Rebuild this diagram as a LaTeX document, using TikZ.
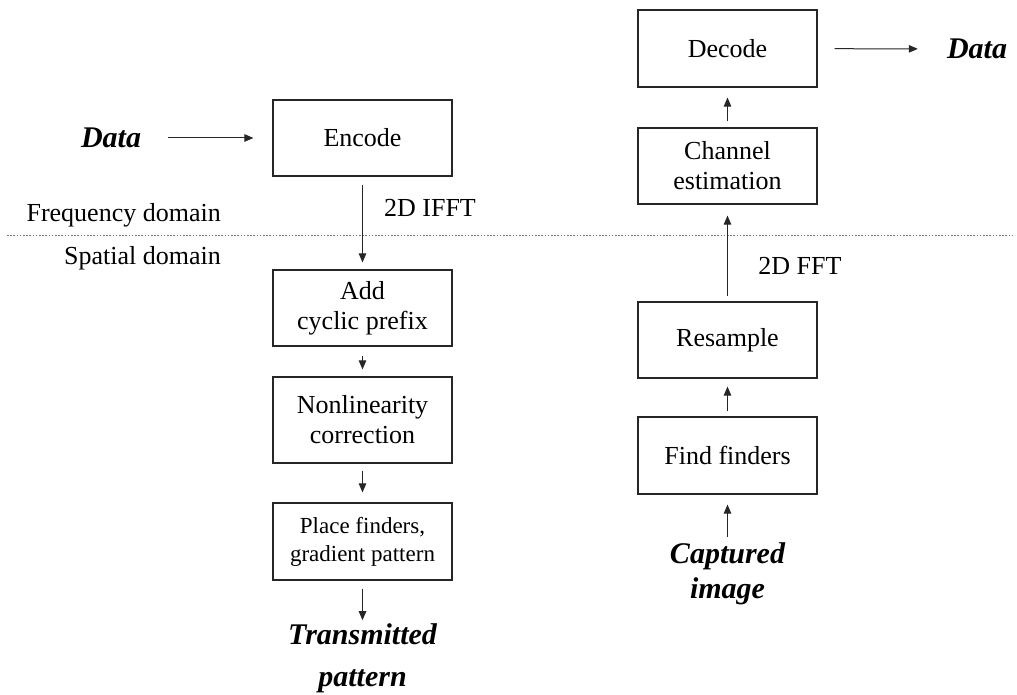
\documentclass[tikz,border=0pt]{standalone}
\usepackage{fontspec}
\setmainfont{Liberation Serif}
\usetikzlibrary{arrows.meta}
\begin{document}
\begin{tikzpicture}[x=1pt,y=-1pt,
  box/.style={draw=black!85, line width=1.2pt, minimum width=179pt, inner sep=0pt, align=center, font=\fontsize{26}{30}\selectfont},
  arr/.style={draw=black!85, line width=1pt, -{Triangle[length=9pt,width=7.5pt]}},
  bigtxt/.style={inner sep=0pt, align=center, font=\fontsize{30}{42}\bfseries\itshape\selectfont},
  lbl/.style={inner sep=0pt, font=\fontsize{26}{30}\selectfont}]
\useasboundingbox (0,0) rectangle (1017,695);
% left column
\node[box, minimum height=76pt] (encode) at (362.5,138) {Encode};
\node[box, minimum height=76pt] (add) at (362.5,308) {Add\\cyclic prefix};
\node[box, minimum height=86pt] (nonlin) at (362.5,420) {Nonlinearity\\correction};
\node[box, minimum height=77pt, font=\fontsize{23}{28}\selectfont] (place) at (362.5,541.5) {Place finders,\\gradient pattern};
\node[bigtxt] (datain) at (111,138) {Data};
\node[bigtxt] (trans) at (362.5,658) {Transmitted\\pattern};
% right column
\node[box, minimum height=77pt] (decode) at (727.5,48.5) {Decode};
\node[box, minimum height=76pt] (channel) at (727.5,166) {Channel\\estimation};
\node[box, minimum height=76pt] (resample) at (727.5,340) {Resample};
\node[box, minimum height=77pt] (find) at (727.5,455.5) {Find finders};
\node[bigtxt] (dataout) at (977,49) {Data};
\node[bigtxt, font=\fontsize{30}{35}\bfseries\itshape\selectfont] (capt) at (727.5,574) {Captured\\image};
% domain labels
\draw[black!55, line width=0.8pt, dash pattern=on 1.6pt off 1.6pt] (7,235) -- (1015,235);
\node[lbl, anchor=east] (freq) at (221,215) {Frequency domain};
\node[lbl, anchor=east] (spat) at (221,258) {Spatial domain};
\node[lbl] (ifft) at (430,208) {2D IFFT};
\node[lbl] (fft) at (800,266) {2D FFT};
% connectors
\draw[arr, shorten <=27pt, shorten >=19pt] (datain) -- (encode);
\draw[arr, shorten <=8pt, shorten >=7pt] (encode) -- (add);
\draw[arr, shorten <=9pt, shorten >=7pt] (add) -- (nonlin);
\draw[arr, shorten <=7pt, shorten >=10pt] (nonlin) -- (place);
\draw[arr, shorten <=8pt, shorten >=3pt] (place.south) -- (trans.north);
\draw[arr, shorten <=6pt, shorten >=10pt] (capt.north) -- (find.south);
\draw[arr, shorten <=5pt, shorten >=8pt] (find) -- (resample);
\draw[arr, shorten <=5pt, shorten >=11pt] (resample) -- (channel);
\draw[arr, shorten <=6pt, shorten >=10pt] (channel) -- (decode);
\draw[arr, shorten <=17pt, shorten >=29pt] (decode) -- (dataout);
\end{tikzpicture}
\end{document}
